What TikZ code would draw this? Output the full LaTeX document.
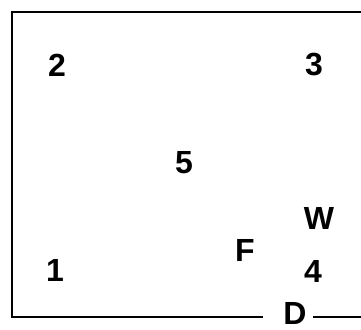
\documentclass[tikz,border=0pt]{standalone}
\usepackage{fontspec}
\setmainfont{Liberation Sans}
\usetikzlibrary{positioning}
\tikzset{lbl/.style={font=\fontsize{32}{32}\selectfont\bfseries, inner sep=0pt}}
\begin{document}
\begin{tikzpicture}[x=1pt,y=-1pt,line width=2.6pt]
        \useasboundingbox (0,0) rectangle (361,329);
        % Coins
        \coordinate (TR) at (361,12);
        \coordinate (TL) at (12,12);
        \coordinate (BL) at (12,317);
        \coordinate (BR) at (361,317);
        % Ouverture autour de D
        \coordinate (gapL) at (263,317);
        \coordinate (gapR) at (313,317);
        % Points
        \node[lbl] (n2) at (57,65) {2};
        \node[lbl] (n3) at (314,65) {3};
        \node[lbl] (n5) at (184,163) {5};
        \node[lbl] (W) at (319,218) {W};
        \node[lbl] (F) at (245,250) {F};
        \node[lbl] (n1) at (55,270) {1};
        \node[lbl] (n4) at (313,271) {4};
        \node[lbl] (D) at (295,313) {D};
        % Murs
        \draw (TR) -- (TL) -- (BL) -- (gapL);
        \draw (gapR) -- (BR);
    \end{tikzpicture}
\end{document}
